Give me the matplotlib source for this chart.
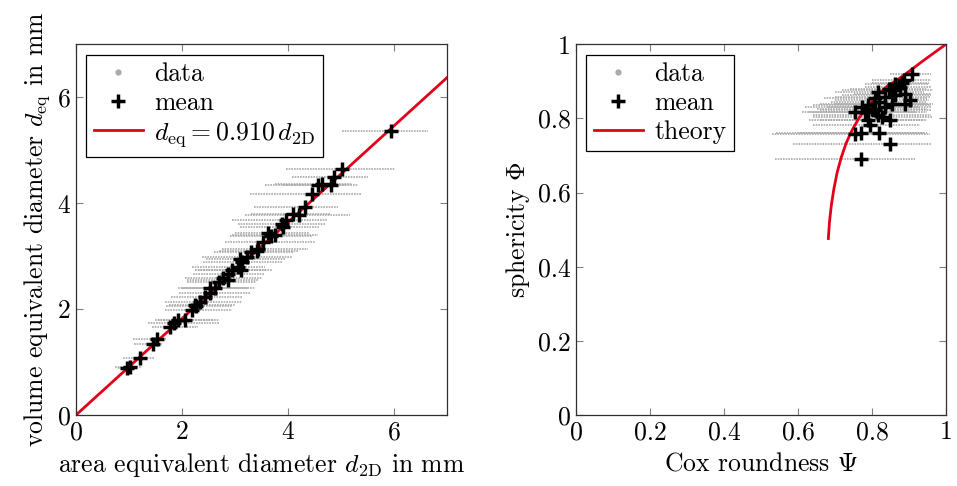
import matplotlib
matplotlib.use("Agg")
import matplotlib.pyplot as plt
from matplotlib.lines import Line2D
import numpy as np

plt.rcParams['font.family'] = 'serif'
plt.rcParams['font.serif'] = ['cmr10']
plt.rcParams['mathtext.fontset'] = 'cm'
plt.rcParams['axes.formatter.use_mathtext'] = True
plt.rcParams['axes.unicode_minus'] = False

# ---------------- left panel data ----------------
# volume equivalent diameter d_eq per particle, mean d_2D, and range of 2D values
deq = [5.36, 4.64, 4.50, 4.34, 4.36, 4.34, 4.17, 3.93, 3.77, 3.80, 3.68, 3.55, 3.40, 3.43,
       3.27, 3.14, 3.08, 2.99, 2.89, 2.80, 2.73, 2.67, 2.58, 2.52, 2.39, 2.30, 2.23, 2.14,
       2.08, 1.98, 1.79, 1.79, 1.73, 1.67, 1.44, 1.35, 1.07, 0.91, 0.88,
       2.55, 2.74, 3.10, 3.38, 2.40, 2.05, 3.60, 2.95]
d2d_mean = [5.94, 5.01, 4.86, 4.81, 4.64, 4.56, 4.46, 4.32, 4.21, 4.10, 3.96, 3.91, 3.76, 3.62,
            3.53, 3.43, 3.31, 3.22, 3.13, 3.06, 2.94, 2.87, 2.78, 2.69, 2.62, 2.53, 2.43, 2.34,
            2.24, 2.18, 2.06, 1.93, 1.84, 1.77, 1.52, 1.46, 1.21, 1.02, 0.96,
            2.87, 3.12, 3.42, 3.68, 2.52, 2.26, 3.88, 3.10]
d2d_min = [5.02, 3.97, 4.07, 3.57, 3.75, 3.90, 3.28, 3.35, 3.19, 3.30, 2.94, 3.10, 2.94, 3.00,
           2.81, 2.75, 2.60, 2.37, 2.40, 2.18, 2.25, 2.20, 2.06, 2.10, 1.93, 1.95, 1.80, 1.68,
           1.75, 1.68, 1.55, 1.50, 1.36, 1.43, 1.08, 1.10, 0.89, 0.74, 0.80,
           2.10, 2.30, 2.70, 2.90, 2.00, 1.70, 3.05, 2.45]
d2d_max = [6.64, 6.02, 5.51, 5.33, 5.20, 5.10, 5.39, 4.95, 5.17, 4.80, 4.76, 4.60, 4.57, 4.40,
           4.51, 4.38, 4.10, 4.07, 3.90, 3.57, 3.60, 3.55, 3.50, 3.40, 3.38, 3.30, 3.15, 3.13,
           3.00, 2.94, 2.69, 2.60, 2.69, 2.31, 1.70, 1.62, 1.49, 1.24, 1.15,
           3.45, 3.70, 4.20, 4.45, 3.25, 2.95, 4.70, 3.95]
fit_slope = 0.910
fit_x = [0.0, 7.0]

# ---------------- right panel data ----------------
phi = [0.921, 0.903, 0.894, 0.876, 0.867, 0.849, 0.840, 0.872, 0.854, 0.835, 0.831, 0.817,
       0.817, 0.822, 0.831, 0.840, 0.804, 0.797, 0.795, 0.782, 0.759, 0.761, 0.761, 0.732,
       0.691, 0.858, 0.863, 0.885, 0.845, 0.825, 0.810, 0.880, 0.895]
psi_mean = [0.907, 0.886, 0.862, 0.853, 0.889, 0.903, 0.889, 0.817, 0.808, 0.790, 0.772, 0.754,
            0.781, 0.808, 0.835, 0.853, 0.826, 0.849, 0.790, 0.794, 0.754, 0.770, 0.819, 0.849,
            0.770, 0.835, 0.862, 0.876, 0.820, 0.800, 0.815, 0.845, 0.880]
psi_min = [0.85, 0.80, 0.78, 0.72, 0.75, 0.70, 0.66, 0.70, 0.67, 0.64, 0.62, 0.61,
           0.63, 0.66, 0.68, 0.70, 0.64, 0.66, 0.63, 0.64, 0.53, 0.54, 0.60, 0.587,
           0.538, 0.70, 0.72, 0.78, 0.69, 0.65, 0.64, 0.74, 0.80]
psi_max = [0.96, 0.96, 0.955, 0.965, 0.96, 0.955, 0.965, 0.94, 0.95, 0.96, 0.93, 0.92,
           0.95, 0.96, 0.96, 0.95, 0.966, 0.95, 0.94, 0.93, 0.957, 0.94, 0.95, 0.961,
           0.916, 0.96, 0.96, 0.96, 0.95, 0.95, 0.96, 0.95, 0.955]
theory_psi = [0.682, 0.685, 0.690, 0.697, 0.706, 0.717, 0.730, 0.746, 0.765, 0.787, 0.812,
              0.840, 0.870, 0.902, 0.935, 0.968, 1.0]
theory_phi = [0.476, 0.520, 0.565, 0.610, 0.655, 0.695, 0.733, 0.768, 0.801, 0.832, 0.861,
              0.886, 0.905, 0.928, 0.953, 0.977, 1.0]

left_ticks = [0, 2, 4, 6]
left_ticklabels = ['0', '2', '4', '6']
right_ticks = [0, 0.2, 0.4, 0.6, 0.8, 1.0]
right_ticklabels = ['0', '0.2', '0.4', '0.6', '0.8', '1']

RED = '#e3001b'
GRAY = '#aaaaaa'
FS = 18.5

fig = plt.figure(figsize=(9.57, 4.86), dpi=100)
ax1 = fig.add_axes([0.0794, 0.146, 0.3877, 0.763])
ax2 = fig.add_axes([0.6019, 0.146, 0.3866, 0.763])


def style(ax):
    ax.tick_params(direction='in', top=True, right=True, length=5, width=0.8,
                   color='#808080', labelsize=FS, pad=4)
    for s in ax.spines.values():
        s.set_color('#303030')
        s.set_linewidth(0.9)


# left
ax1.hlines(deq, d2d_min, d2d_max, colors=GRAY, linewidth=1.2, linestyles=(0, (1.0, 0.6)), zorder=1)
ax1.plot(fit_x, [fit_slope * v for v in fit_x], color=RED, lw=2, zorder=2)
ax1.plot(d2d_mean, deq, linestyle='none', marker='+', color='black', ms=10.5, mew=2.5, zorder=3)
ax1.set_xlim(0, 7)
ax1.set_ylim(0, 7)
ax1.set_xticks(left_ticks)
ax1.set_xticklabels(left_ticklabels)
ax1.set_yticks(left_ticks)
ax1.set_yticklabels(left_ticklabels)
ax1.set_xlabel(r'area equivalent diameter $d_{\mathrm{2D}}$ in mm', fontsize=FS, labelpad=5)
ax1.set_ylabel(r'volume equivalent diameter $d_{\mathrm{eq}}$ in mm', fontsize=FS, labelpad=4)
style(ax1)

h_data = Line2D([], [], linestyle='none', marker='o', ms=3.5, color=GRAY, mec=GRAY)
h_mean = Line2D([], [], linestyle='none', marker='+', ms=10, mew=2.5, color='black')
h_fit = Line2D([], [], color=RED, lw=2)
leg_kw = dict(loc='upper left', fontsize=FS, fancybox=False, framealpha=1,
              edgecolor='black', borderpad=0.3, labelspacing=0.2, handlelength=1.9,
              handletextpad=0.45, borderaxespad=0.4)
leg1 = ax1.legend([h_data, h_mean, h_fit],
                  ['data', 'mean', r'$d_{\mathrm{eq}} = 0.910\,d_{\mathrm{2D}}$'], **leg_kw)
leg1.get_frame().set_linewidth(0.9)

# right
ax2.hlines(phi, psi_min, psi_max, colors=GRAY, linewidth=1.2, linestyles=(0, (1.0, 0.6)), zorder=1)
ax2.plot(theory_psi, theory_phi, color=RED, lw=2, zorder=2)
ax2.plot(psi_mean, phi, linestyle='none', marker='+', color='black', ms=10.5, mew=2.5, zorder=3)
ax2.set_xlim(0, 1)
ax2.set_ylim(0, 1)
ax2.set_xticks(right_ticks)
ax2.set_xticklabels(right_ticklabels)
ax2.set_yticks(right_ticks)
ax2.set_yticklabels(right_ticklabels)
ax2.set_xlabel(r'Cox roundness $\Psi$', fontsize=FS, labelpad=5)
ax2.set_ylabel(r'sphericity $\Phi$', fontsize=FS, labelpad=4)
style(ax2)
h_th = Line2D([], [], color=RED, lw=2)
leg2 = ax2.legend([h_data, h_mean, h_th], ['data', 'mean', 'theory'], **leg_kw)
leg2.get_frame().set_linewidth(0.9)

fig.savefig('out.png', dpi=100)
